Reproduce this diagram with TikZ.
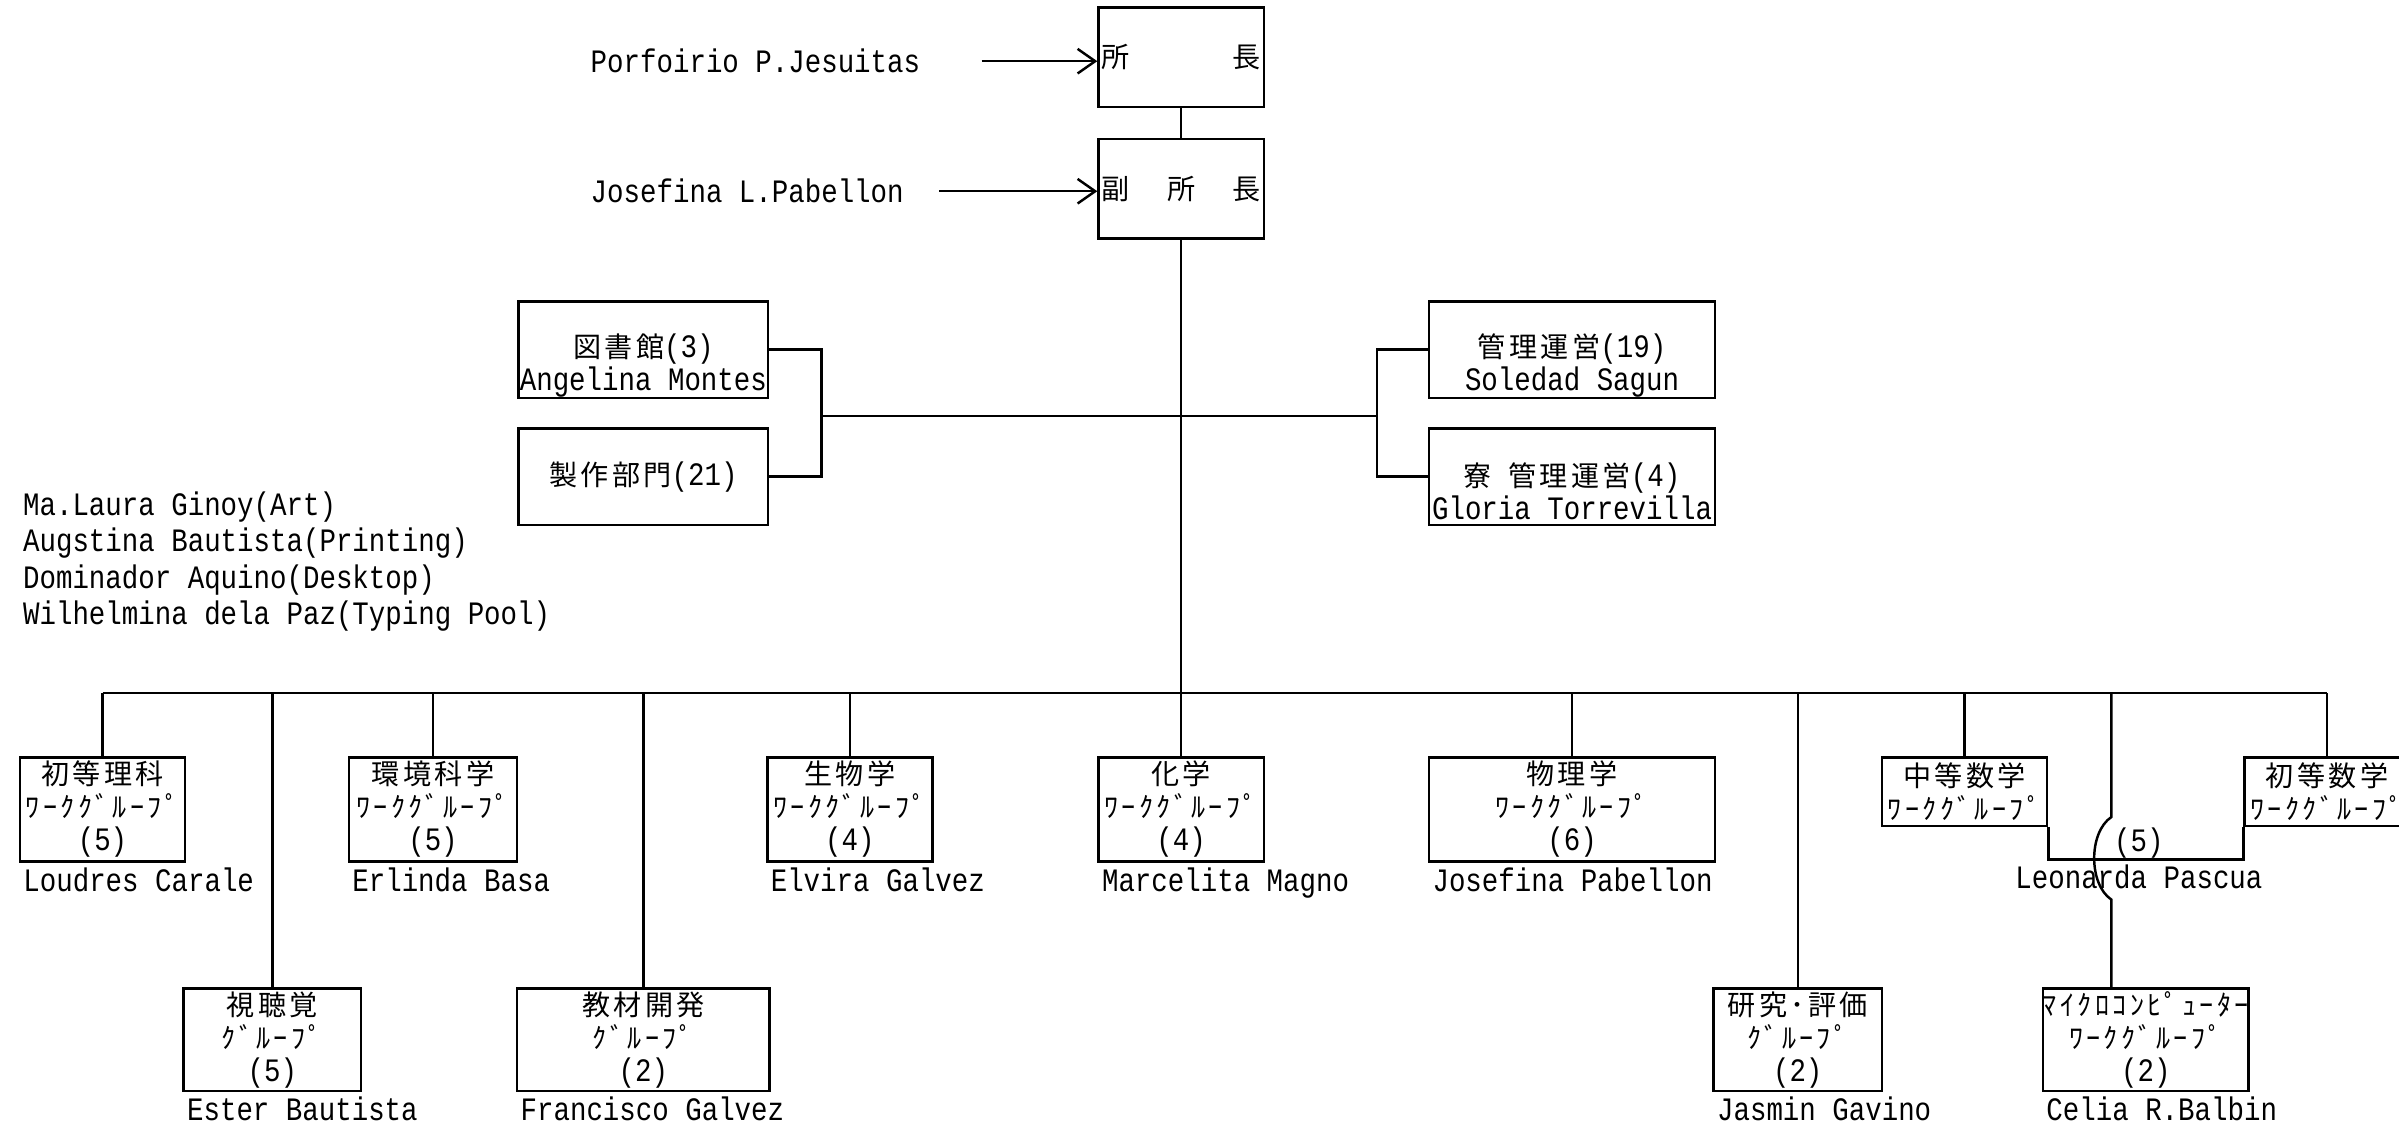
\documentclass[tikz,border=0pt]{standalone}
\usepackage{fontspec}
\setmainfont[FakeStretch=0.84]{Liberation Mono}
\newfontfamily\jp[LetterSpace=12]{Noto Sans CJK JP}
\usetikzlibrary{arrows.meta,positioning}
\newlength\px
\setlength\px{0.0153cm}
\newcommand\jt[1]{{\jp\fontsize{8}{9.2}\selectfont #1}}
\begin{document}
\begin{tikzpicture}[x=\px, y=-\px, line width=0.7pt,
  txt/.style={inner sep=1pt, font={\fontsize{9.3}{9.4}\selectfont\lineskiplimit=-20pt}},
  box/.style={draw, txt, align=center, inner sep=0pt, minimum height=68\px},
  who/.style={txt, anchor=north west},
  arr/.style={-{Straight Barb[length=5pt,width=7pt]}}]
\path[use as bounding box, fill=white] (0,0) rectangle (1568,735);
\node[box, minimum width=108\px, minimum height=65\px, text width=104\px] (dir) at (772,37.5) {\jt{所}\hfill\jt{長}};
\node[box, minimum width=108\px, minimum height=65\px, text width=104\px] (vdir) at (772,123.5) {\jt{副}\hfill\jt{所}\hfill\jt{長}};
\node[txt, anchor=west] (pres) at (383,40) {Porfoirio P.Jesuitas};
\node[txt, anchor=west] (vpres) at (383,125) {Josefina L.Pabellon};
\draw[arr, shorten <=37\px] (pres.east) -- (pres.east -| dir.west);
\draw[arr, shorten <=20\px] (vpres.east) -- (vpres.east -| vdir.west);
\draw (dir) -- (vdir);
\node[box, minimum width=163\px, minimum height=63\px] (lib) at (420.5,228.5) {};
\node[txt, align=center] (libtxt) at (420.5,239) {\jt{図書館}(3)\\Angelina Montes};
\node[box, minimum width=163\px, minimum height=63\px] (prod) at (420.5,311.5) {\jt{製作部門}(21)};
\node[box, minimum width=187\px, minimum height=63\px] (adm) at (1027.5,228.5) {};
\node[txt, align=center] (admtxt) at (1027.5,239) {\jt{管理運営}(19)\\Soledad Sagun};
\node[box, minimum width=187\px, minimum height=63\px] (dorm) at (1027.5,311.5) {};
\node[txt, align=center] (dormtxt) at (1027.5,321) {\jt{寮}\ \jt{管理運営}(4)\\Gloria Torrevilla};
\coordinate (brl) at (537,272);
\coordinate (brr) at (900,272);
\draw (lib.east) -| (brl) |- (prod.east);
\draw (adm.west) -| (brr) |- (dorm.west);
\draw (brl) -- (brr);
\node[txt, align=left, anchor=west, font={\fontsize{9.3}{10.4}\selectfont}] (staff) at (12,367) {Ma.Laura Ginoy(Art)\\Augstina Bautista(Printing)\\Dominador Aquino(Desktop)\\Wilhelmina dela Paz(Typing Pool)};
\node[box, minimum width=108\px] (elsci) at (67,529) {\jt{初等理科}\\\jt{ﾜｰｸｸﾞﾙｰﾌﾟ}\\(5)};
\node[box, minimum width=110\px] (env) at (283,529) {\jt{環境科学}\\\jt{ﾜｰｸｸﾞﾙｰﾌﾟ}\\(5)};
\node[box, minimum width=108\px] (bio) at (555.5,529) {\jt{生物学}\\\jt{ﾜｰｸｸﾞﾙｰﾌﾟ}\\(4)};
\node[box, minimum width=108\px] (chem) at (772,529) {\jt{化学}\\\jt{ﾜｰｸｸﾞﾙｰﾌﾟ}\\(4)};
\node[box, minimum width=187\px] (phys) at (1027.5,529) {\jt{物理学}\\\jt{ﾜｰｸｸﾞﾙｰﾌﾟ}\\(6)};
\node[box, minimum width=108\px, minimum height=45\px] (secm) at (1284,517.5) {\jt{中等数学}\\\jt{ﾜｰｸｸﾞﾙｰﾌﾟ}};
\node[box, minimum width=108\px, minimum height=45\px] (elm) at (1521,517.5) {\jt{初等数学}\\\jt{ﾜｰｸｸﾞﾙｰﾌﾟ}};
\draw (secm.south east) -- ++(0,21) -| (elm.south west);
\node[txt] (mathn) at (1398,551) {(5)};
\node[txt] (mathw) at (1398,573) {Leonarda Pascua};
\node[box, minimum width=116\px, minimum height=67\px] (av) at (178,679.5) {\jt{視聴覚}\\\jt{ｸﾞﾙｰﾌﾟ}\\(5)};
\node[box, minimum width=165\px, minimum height=67\px] (mat) at (420.5,679.5) {\jt{教材開発}\\\jt{ｸﾞﾙｰﾌﾟ}\\(2)};
\node[box, minimum width=110\px, minimum height=67\px] (res) at (1175,679.5) {\jt{研究･評価}\\\jt{ｸﾞﾙｰﾌﾟ}\\(2)};
\node[box, minimum width=129\px, minimum height=67\px] (mc) at (1402.5,679.5) {\jt{ﾏｲｸﾛｺﾝﾋﾟｭｰﾀｰ}\\\jt{ﾜｰｸｸﾞﾙｰﾌﾟ}\\(2)};
\node[who] (elsciw) at (elsci.south west) {Loudres Carale};
\node[who] (envw) at (env.south west) {Erlinda Basa};
\node[who] (biow) at (bio.south west) {Elvira Galvez};
\node[who] (chemw) at (chem.south west) {Marcelita Magno};
\node[who] (physw) at (phys.south west) {Josefina Pabellon};
\node[who] (avw) at (av.south west) {Ester Bautista};
\node[who] (matw) at (mat.south west) {Francisco Galvez};
\node[who] (resw) at (res.south west) {Jasmin Gavino};
\node[who] (mcw) at (mc.south west) {Celia R.Balbin};
\coordinate (bus) at (772,453);
\coordinate (mcin) at (1380,646);
\draw (vdir.south) -- (vdir.south |- bus);
\draw (elsci.north |- bus) -- (elm.north |- bus);
\draw (elsci.north) -- (elsci.north |- bus);
\draw (env.north) -- (env.north |- bus);
\draw (bio.north) -- (bio.north |- bus);
\draw (chem.north) -- (chem.north |- bus);
\draw (phys.north) -- (phys.north |- bus);
\draw (secm.north) -- (secm.north |- bus);
\draw (elm.north) -- (elm.north |- bus);
\draw (av.north) -- (av.north |- bus);
\draw (mat.north) -- (mat.north |- bus);
\draw (res.north) -- (res.north |- bus);
\draw (mcin) -- (1380,588) .. controls (1365,578) and (1365,544) .. (1380,534) -- (mcin |- bus);
\end{tikzpicture}
\end{document}
